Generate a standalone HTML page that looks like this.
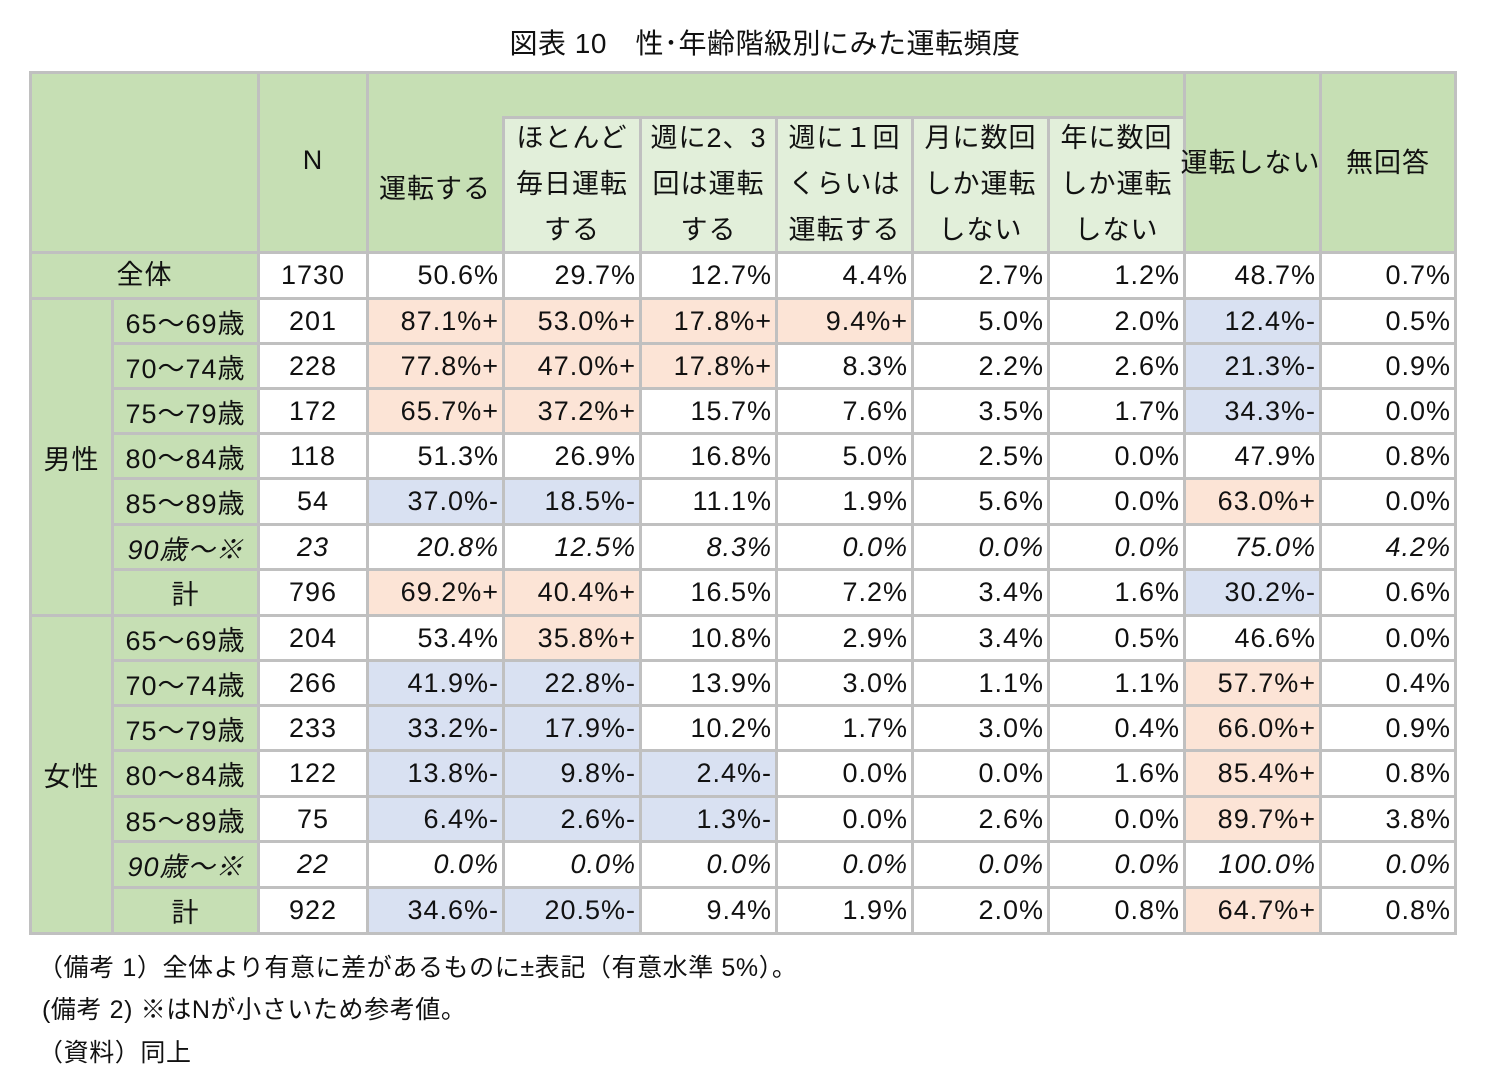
<!DOCTYPE html>
<html><head><meta charset="utf-8">
<style>
body{margin:0;width:1485px;height:1085px;background:#fff;position:relative;overflow:hidden;font-family:"Liberation Sans","Noto Sans CJK JP",sans-serif;color:#111;}
.c{position:absolute;box-sizing:border-box;border:3px solid #c0c0c0;font-size:27px;letter-spacing:1px;display:flex;align-items:center;white-space:nowrap;}
.t{position:absolute;font-size:26px;white-space:nowrap;}
</style></head><body>
<div class="t" style="left:0;width:1530px;text-align:center;top:22px;font-size:28px;letter-spacing:0.5px;">図表 10　性･年齢階級別にみた運転頻度</div>
<div id="tbl"></div>
<div class="t" style="left:38px;top:948px;font-size:25px;letter-spacing:0.6px;">（備考 1）全体より有意に差があるものに±表記（有意水準 5%）。</div>
<div class="t" style="left:42px;top:990px;font-size:25px;letter-spacing:0.6px;">(備考 2)  ※はNが小さいため参考値。</div>
<div class="t" style="left:38px;top:1033px;font-size:25px;letter-spacing:0.6px;">（資料）同上</div>
<script>
const ages=["65～69歳","70～74歳","75～79歳","80～84歳","85～89歳","90歳～※","計"];
const totalRow=["1730","50.6%","29.7%","12.7%","4.4%","2.7%","1.2%","48.7%","0.7%"];
const maleRows=[
["201","87.1%+","53.0%+","17.8%+","9.4%+","5.0%","2.0%","12.4%-","0.5%"],
["228","77.8%+","47.0%+","17.8%+","8.3%","2.2%","2.6%","21.3%-","0.9%"],
["172","65.7%+","37.2%+","15.7%","7.6%","3.5%","1.7%","34.3%-","0.0%"],
["118","51.3%","26.9%","16.8%","5.0%","2.5%","0.0%","47.9%","0.8%"],
["54","37.0%-","18.5%-","11.1%","1.9%","5.6%","0.0%","63.0%+","0.0%"],
["23","20.8%","12.5%","8.3%","0.0%","0.0%","0.0%","75.0%","4.2%"],
["796","69.2%+","40.4%+","16.5%","7.2%","3.4%","1.6%","30.2%-","0.6%"]];
const femaleRows=[
["204","53.4%","35.8%+","10.8%","2.9%","3.4%","0.5%","46.6%","0.0%"],
["266","41.9%-","22.8%-","13.9%","3.0%","1.1%","1.1%","57.7%+","0.4%"],
["233","33.2%-","17.9%-","10.2%","1.7%","3.0%","0.4%","66.0%+","0.9%"],
["122","13.8%-","9.8%-","2.4%-","0.0%","0.0%","1.6%","85.4%+","0.8%"],
["75","6.4%-","2.6%-","1.3%-","0.0%","2.6%","0.0%","89.7%+","3.8%"],
["22","0.0%","0.0%","0.0%","0.0%","0.0%","0.0%","100.0%","0.0%"],
["922","34.6%-","20.5%-","9.4%","1.9%","2.0%","0.8%","64.7%+","0.8%"]];
const X=[30,112,258,367,503,640,776,912,1048,1184,1320,1455];
const Y=[252,298,343,388,433,478,524,569,615,660,705,750,796,841,887,933];
const G="#c6dfb4",LG="#e2efda",PK="#fce4d6",BL="#d9e1f2";
const tbl=document.getElementById('tbl');
function cell(x0,y0,x1,y1,bg,html,align,name,italic){
  const d=document.createElement('div');d.className='c';
  d.style.left=(x0-1)+'px';d.style.top=(y0-1)+'px';
  d.style.width=(x1-x0+3)+'px';d.style.height=(y1-y0+3)+'px';
  d.style.background=bg;d.style.justifyContent=align;
  if(align==='flex-end')d.style.paddingRight='3px';
  if(italic)d.style.fontStyle='italic';
  d.innerHTML=html;
  
  
  tbl.appendChild(d);
  return d;
}
cell(30,72,258,252,G,'','center','header-corner');
cell(258,72,367,252,G,'<div style="margin-top:-4px">N</div>','center','header-n');
cell(367,72,1184,252,G,'','center','header-group');
const dh=cell(367,117,503,252,G,'<div style="margin-top:2px">運転する</div>','center','header-drive');
dh.style.border='none';dh.style.left='369px';dh.style.width='132px';
const subs=["ほとんど<br>毎日運転<br>する","週に2、3<br>回は運転<br>する","週に１回<br>くらいは<br>運転する","月に数回<br>しか運転<br>しない","年に数回<br>しか運転<br>しない"];
for(let i=0;i<5;i++){cell(X[4+i],117,X[5+i],252,LG,'<div style="line-height:46px;text-align:center;margin-top:-2px">'+subs[i]+'</div>','center','header-sub-'+i);}
cell(1184,72,1320,252,G,'<div style="margin-top:-4px;margin-left:-4px">運転しない</div>','center','header-no-drive');
cell(1320,72,1455,252,G,'<div style="margin-top:-4px">無回答</div>','center','header-no-answer');
function dataRow(vals,r,prefix,italic){
  vals.forEach((v,j)=>{
    let bg='#fff';
    if(v.endsWith('+'))bg=PK;else if(v.endsWith('-'))bg=BL;
    cell(X[j+2],Y[r],X[j+3],Y[r+1],bg,v,j===0?'center':'flex-end',prefix+'-c'+j,italic);
  });
}
cell(30,Y[0],258,Y[1],G,'<div style="margin-top:-6px">全体</div>','center','row-total-label');
dataRow(totalRow,0,'total-row',false);
cell(30,Y[1],112,Y[8],G,'男性','center','male-label');
cell(30,Y[8],112,Y[15],G,'女性','center','female-label');
for(let i=0;i<7;i++){
  const it=ages[i].includes('※');
  cell(112,Y[1+i],258,Y[2+i],G,ages[i],'center','male-age-'+i,it);
  dataRow(maleRows[i],1+i,'male-row-'+i,it);
  cell(112,Y[8+i],258,Y[9+i],G,ages[i],'center','female-age-'+i,it);
  dataRow(femaleRows[i],8+i,'female-row-'+i,it);
}
</script>
</body></html>
